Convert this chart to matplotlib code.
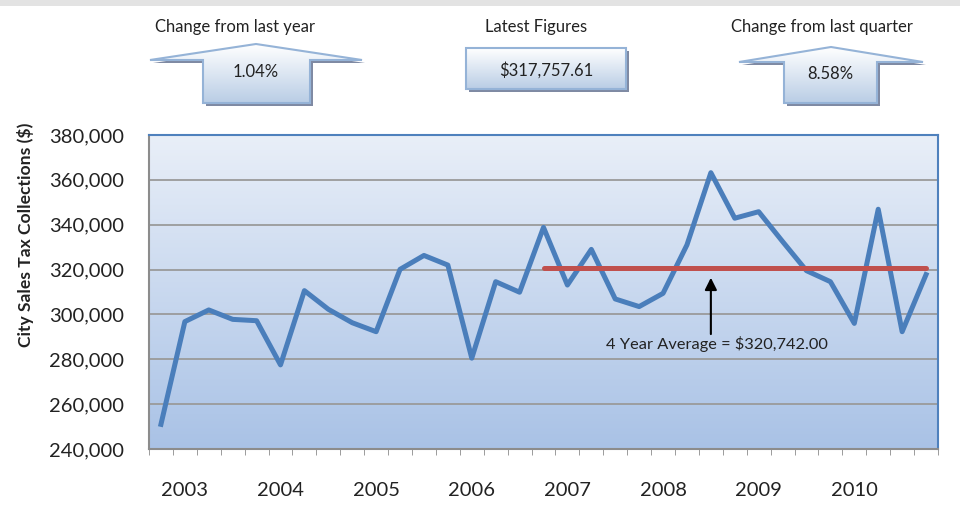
import matplotlib
matplotlib.use("Agg")
import matplotlib.pyplot as plt
import numpy as np
from matplotlib.patches import Polygon, Rectangle
from matplotlib.colors import LinearSegmentedColormap

plt.rcParams['font.family'] = ['Lato', 'DejaVu Sans']

# ---- data ----
collections = [251000, 296800, 302000, 297800, 297200, 277500, 310600, 302300,
               296300, 292300, 320100, 326300, 322000, 280500, 314600, 309900,
               338800, 313100, 329000, 306900, 303500, 309400, 331000, 363200,
               342900, 345800, 332500, 319500, 314600, 296000, 346900, 292300,
               317758]
year_labels = ['2003', '2004', '2005', '2006', '2007', '2008', '2009', '2010']
year_label_idx = [1, 5, 9, 13, 17, 21, 25, 29]
avg_value = 320742.00
avg_start, avg_end = 16, 32
avg_label = '4 Year Average = $320,742.00'
arrow_idx = 23
yticks = [240000, 260000, 280000, 300000, 320000, 340000, 360000, 380000]
kpi_titles = ['Change from last year', 'Latest Figures', 'Change from last quarter']
kpi_values = ['1.04%', '$317,757.61', '8.58%']

W, H = 960, 521
fig = plt.figure(figsize=(W / 100, H / 100), dpi=100)
fig.patch.set_facecolor('white')

L, R, T, B = 149, 938, 135, 449
ax = fig.add_axes([L / W, 1 - B / H, (R - L) / W, (B - T) / H])
n = len(collections)
x = np.arange(n)
ax.set_xlim(-0.5, n - 0.5)
ax.set_ylim(240000, 380000)

# gradient background
grad = LinearSegmentedColormap.from_list('g', ['#A9C2E6', '#E9EFF8'])
ax.imshow(np.linspace(0, 1, 256).reshape(-1, 1), cmap=grad, aspect='auto',
          extent=(-0.5, n - 0.5, 240000, 380000), origin='lower', zorder=0)

for yv in yticks[1:-1]:
    ax.axhline(yv, color='#9A9A9A', lw=1.3, zorder=1)

ax.plot(x, collections, color='#4A7EBB', lw=3.6, solid_joinstyle='round', zorder=3)
ax.plot([avg_start, avg_end], [avg_value, avg_value], color='#C0504D', lw=3.6,
        solid_capstyle='round', zorder=4)

ax.annotate('', xy=(arrow_idx, 317600), xytext=(arrow_idx, 290000),
            arrowprops=dict(arrowstyle='-|>', color='black', lw=1.5,
                            mutation_scale=18), zorder=5)
ax.text(arrow_idx + 0.25, 286800, avg_label, ha='center', va='center',
        fontsize=11.8, color='#222222', zorder=5)

ax.set_yticks(yticks)
ax.set_yticklabels([f'{v:,}' for v in yticks], fontsize=14.5, color='#222222')
ax.set_xticks(year_label_idx)
ax.set_xticklabels(year_labels, fontsize=14.5, color='#222222')
ax.set_xticks(np.arange(-0.5, n, 1), minor=True)
ax.tick_params(axis='x', which='major', length=0, pad=24)
ax.tick_params(axis='x', which='minor', length=4, color='#8C8C8C', direction='out')
ax.tick_params(axis='y', length=0, pad=18)
ax.set_ylabel('City Sales Tax Collections ($)', fontsize=12.6, fontweight='bold',
              color='#222222')
ax.yaxis.set_label_coords((34 - L) / (R - L), (B - 235) / (B - T))
for s in ['left', 'bottom']:
    ax.spines[s].set_color('#8C8C8C')
    ax.spines[s].set_linewidth(1.5)
for s in ['top', 'right']:
    ax.spines[s].set_color('#4F81BD')
    ax.spines[s].set_linewidth(1.5)

# ---- overlay for KPI shapes ----
ov = fig.add_axes([0, 0, 1, 1], zorder=10)
ov.set_xlim(0, W)
ov.set_ylim(H, 0)
ov.axis('off')
ov.patch.set_alpha(0)
ov.add_patch(Rectangle((0, 0), W, 6, color='#E3E3E3', lw=0))

shape_grad = LinearSegmentedColormap.from_list('s', ['#B9CDE5', '#FFFFFF'])


def draw_shape(pts):
    sh = [(px + 3, py + 3) for px, py in pts]
    ov.add_patch(Polygon(sh, closed=True, facecolor='#7F8AA3', edgecolor='none', zorder=1))
    xs = [p[0] for p in pts]
    ys = [p[1] for p in pts]
    poly = Polygon(pts, closed=True, facecolor='none', edgecolor='#95B3D7', lw=1.5, zorder=3)
    ov.add_patch(poly)
    im = ov.imshow(np.linspace(0, 1, 256).reshape(-1, 1), cmap=shape_grad, aspect='auto',
                   extent=(min(xs), max(xs), max(ys), min(ys)), origin='lower', zorder=2)
    im.set_clip_path(poly)


def up_arrow(hx0, hx1, tip_y, base_y, bx0, bx1, bot):
    cx = (hx0 + hx1) / 2
    return [(hx0, base_y), (cx, tip_y), (hx1, base_y), (bx1, base_y), (bx1, bot),
            (bx0, bot), (bx0, base_y)]


draw_shape(up_arrow(150, 362, 44, 60, 203, 310, 103))
draw_shape([(466, 48), (626, 48), (626, 89), (466, 89)])
draw_shape(up_arrow(739, 923, 47, 62, 784, 877, 103))
ov.set_xlim(0, W)
ov.set_ylim(H, 0)

title_pos = [(235, 27), (536, 27), (822, 27)]
value_pos = [(256, 72), (546, 70), (830, 74)]
for t, (px, py) in zip(kpi_titles, title_pos):
    ov.text(px, py, t, ha='center', va='center', fontsize=12, color='#222222', zorder=5)
for v, (px, py) in zip(kpi_values, value_pos):
    ov.text(px, py, v, ha='center', va='center', fontsize=12, color='#222222', zorder=5)

fig.savefig('out.png', dpi=100)
